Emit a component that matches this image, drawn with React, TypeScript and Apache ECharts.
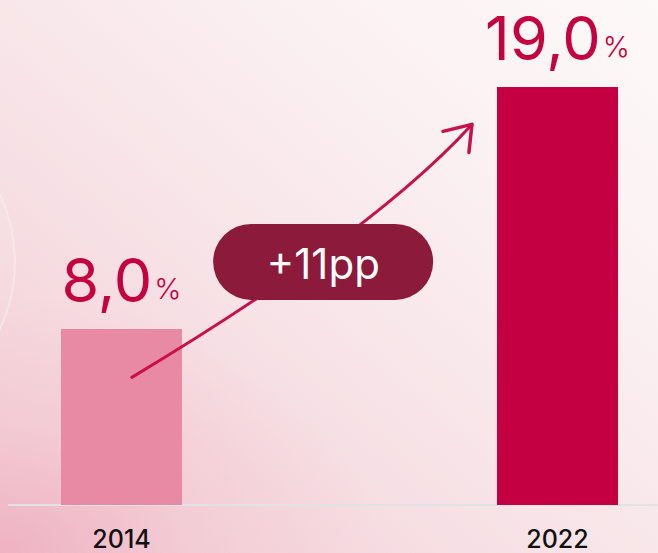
import React, { useEffect, useRef } from "react";
import * as echarts from "echarts";

const years = [2014, 2022];
const shares = [8.0, 19.0];
const barColors = ["#E98AA4", "#C40042"];
const yearTicks = [2014, 2022];
const changeLabel = "+11pp";

const FONT = "Inter, 'Noto Sans', sans-serif";

export default function App() {
  const ref = useRef<HTMLDivElement>(null);

  useEffect(() => {
    if (!ref.current) return;
    const chart = echarts.init(ref.current, undefined, { renderer: "svg" });
    const fmt = (v: number) => v.toFixed(1).replace(".", ",");
    const option: any = {
      animation: false,
      backgroundColor: "transparent",
      grid: { left: 9, right: 0, top: 65, bottom: 48 },
      xAxis: {
        type: "value",
        min: 2011.936,
        max: 2023.844,
        splitLine: { show: false },
        axisTick: { show: false },
        axisLine: { show: true, onZero: false, lineStyle: { color: "#DFE3E7", width: 2 } },
        axisLabel: {
          customValues: yearTicks,
          formatter: (v: number) => String(v),
          color: "#111111",
          fontSize: 25,
          fontWeight: 500,
          fontFamily: FONT,
          margin: 21,
        },
      },
      yAxis: {
        type: "value",
        min: 0,
        max: 20,
        show: false,
      },
      series: [
        {
          type: "bar",
          barWidth: 121,
          data: years.map((y, i) => ({
            value: [y, shares[i]],
            itemStyle: { color: barColors[i] },
          })),
          label: {
            show: true,
            position: "top",
            distance: 19,
            formatter: (p: any) => `{n|${fmt(p.value[1])}}{p|%}`,
            rich: {
              n: {
                fontSize: 61,
                fontFamily: FONT,
                color: "#C4003F",
                fontWeight: 400,
                verticalAlign: "bottom",
              },
              p: {
                fontSize: 29,
                fontFamily: FONT,
                color: "#C4003F",
                fontWeight: 300,
                verticalAlign: "bottom",
                padding: [0, 0, 7, 2],
              },
            },
          },
        },
      ],
    };
    chart.setOption(option);

    const px = (v: number[]) => chart.convertToPixel({ gridIndex: 0 }, v) as number[];
    const s = px([2014.19, 5.8]);
    const c = px([2018.63, 12.4]);
    const t = px([2020.43, 17.3]);
    const pill = px([2017.7, 11.05]);
    const pw = 220, ph = 76;

    chart.setOption({
      graphic: [
        {
          type: "circle",
          z: -10,
          silent: true,
          shape: { cx: -142, cy: 262, r: 157 },
          style: { fill: "rgba(255,255,255,0.06)", stroke: "rgba(255,255,255,0.3)", lineWidth: 2 },
        },
        {
          type: "bezierCurve",
          z: 20,
          shape: { x1: s[0], y1: s[1], x2: t[0], y2: t[1], cpx1: c[0], cpy1: c[1] },
          style: { stroke: "#C8104A", lineWidth: 3, fill: null, lineCap: "round" },
        },
        {
          type: "polyline",
          z: 20,
          shape: { points: [[t[0] - 29, t[1] + 7], [t[0], t[1]], [t[0] - 3, t[1] + 28]] },
          style: { stroke: "#C8104A", lineWidth: 3.5, fill: null, lineCap: "round", lineJoin: "round" },
        },
        {
          type: "rect",
          z: 30,
          shape: { x: pill[0] - pw / 2, y: pill[1] - ph / 2, width: pw, height: ph, r: ph / 2 },
          style: { fill: "#8B1A3B" },
        },
        {
          type: "text",
          z: 31,
          x: pill[0],
          y: pill[1] + 2,
          style: {
            text: changeLabel,
            fill: "#FFFFFF",
            fontSize: 42,
            fontFamily: FONT,
            fontWeight: 400,
            align: "center",
            verticalAlign: "middle",
          },
        },
      ],
    });

    return () => chart.dispose();
  }, []);

  return (
    <div
      style={{
        position: "fixed",
        left: 0,
        top: 0,
        width: 658,
        height: 553,
        overflow: "hidden",
        background:
          "radial-gradient(ellipse 380px 260px at 0% 100%, rgba(238,172,190,0.8) 0%, rgba(241,195,206,0.45) 50%, rgba(248,225,230,0) 100%), linear-gradient(to top right, #F3CBD4 0%, #F7E2E6 40%, #FBF0F1 70%, #FDF9F8 100%)",
      }}
    >
      <div ref={ref} style={{ width: 658, height: 553 }} />
    </div>
  );
}
